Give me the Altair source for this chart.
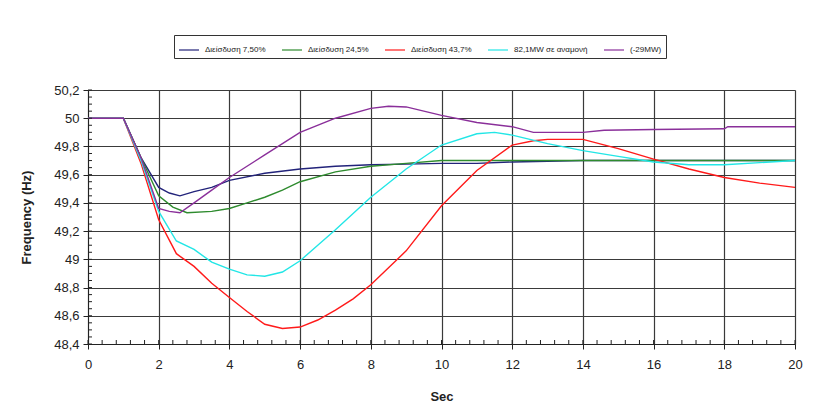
import altair as alt
import pandas as pd

series_names = ["Διείσδυση 7,50%", "Διείσδυση 24,5%", "Διείσδυση 43,7%",
                "82,1MW σε αναμονή", "(-29MW)"]
series_colors = ["#22237a", "#2e8b2e", "#ff1a1a", "#22e6e6", "#8a2f9a"]

t_navy = [0, 1, 1.5, 2, 2.3, 2.6, 3, 3.5, 4, 5, 6, 7, 8, 9, 10, 11, 12, 14, 16, 18, 20]
v_navy = [50, 50, 49.72, 49.51, 49.47, 49.45, 49.48, 49.51, 49.56, 49.61, 49.64,
          49.66, 49.67, 49.675, 49.68, 49.68, 49.69, 49.70, 49.70, 49.70, 49.70]

t_green = [0, 1, 1.5, 2, 2.4, 2.8, 3.5, 4, 4.5, 5, 5.5, 6, 7, 8, 9, 10, 12, 14, 16, 18, 20]
v_green = [50, 50, 49.72, 49.45, 49.37, 49.33, 49.34, 49.36, 49.40, 49.44, 49.49,
           49.55, 49.62, 49.66, 49.68, 49.70, 49.70, 49.70, 49.70, 49.70, 49.70]

t_red = [0, 1, 1.5, 2, 2.5, 3, 3.5, 4, 4.5, 5, 5.5, 6, 6.5, 7, 7.5, 8, 9, 10, 11,
         12, 12.6, 13, 14, 15, 16, 17, 18, 19, 20]
v_red = [50, 50, 49.68, 49.28, 49.04, 48.95, 48.83, 48.73, 48.63, 48.54, 48.51,
         48.52, 48.57, 48.64, 48.72, 48.82, 49.06, 49.38, 49.63, 49.81, 49.84,
         49.85, 49.85, 49.785, 49.71, 49.64, 49.58, 49.54, 49.51]

t_cyan = [0, 1, 1.5, 2, 2.5, 3, 3.5, 4, 4.5, 5, 5.5, 6, 6.5, 7, 8, 9, 10, 11, 11.5,
          12, 13, 14, 15, 16, 17, 18, 19, 20]
v_cyan = [50, 50, 49.70, 49.34, 49.13, 49.07, 48.98, 48.93, 48.89, 48.88, 48.91,
          48.99, 49.10, 49.21, 49.44, 49.64, 49.81, 49.89, 49.90, 49.88, 49.82,
          49.77, 49.73, 49.69, 49.67, 49.67, 49.685, 49.70]

t_purple = [0, 1, 1.5, 2, 2.3, 2.6, 3, 3.5, 4, 5, 6, 7, 8, 8.5, 9, 10, 11, 12,
            12.6, 14, 14.6, 16, 18, 18.1, 20]
v_purple = [50, 50, 49.72, 49.36, 49.34, 49.33, 49.40, 49.49, 49.58, 49.74, 49.90,
            50.00, 50.07, 50.085, 50.08, 50.02, 49.97, 49.94, 49.90, 49.90, 49.915,
            49.92, 49.925, 49.94, 49.94]

x_major_ticks = [0, 2, 4, 6, 8, 10, 12, 14, 16, 18, 20]
y_major_ticks = [48.4, 48.6, 48.8, 49.0, 49.2, 49.4, 49.6, 49.8, 50.0, 50.2]
x_minor_ticks = [round(0.4 * i, 1) for i in range(51)]
y_minor_ticks = [round(48.4 + 0.05 * i, 2) for i in range(37)]

rows = []
for name, ts, vs in zip(series_names,
                        [t_navy, t_green, t_red, t_cyan, t_purple],
                        [v_navy, v_green, v_red, v_cyan, v_purple]):
    for k, (t, v) in enumerate(zip(ts, vs)):
        rows.append({"Series": name, "t": t, "f": v, "k": k})
df = pd.DataFrame(rows)

FONT = "Liberation Sans"
W, H = 707, 254
xscale = alt.Scale(domain=[0, 20], nice=False)
yscale = alt.Scale(domain=[48.4, 50.2], nice=False, zero=False)

x_axis = alt.Axis(values=x_major_ticks, title="Sec", titleFontWeight="bold",
                  titleFontSize=13, labelFontSize=13, labelColor="#222",
                  titleColor="#222", grid=True, gridColor="#3a3a3a",
                  gridWidth=1.2, domainColor="#222", tickColor="#222",
                  tickSize=5, labelPadding=9, titlePadding=19,
                  labelFlush=False, labelOverlap=False)
y_axis = alt.Axis(values=y_major_ticks,
                  labelExpr="replace(format(datum.value, '.1~f'), '.', ',')",
                  title="Frequency (Hz)", titleFontWeight="bold",
                  titleFontSize=13, labelFontSize=13, labelColor="#222",
                  titleColor="#222", grid=True, gridColor="#3a3a3a",
                  gridWidth=1.2, domainColor="#222", tickColor="#222",
                  tickSize=5, labelPadding=4, titlePadding=20,
                  labelFlush=False, labelOverlap=False)

lines = alt.Chart(df).mark_line(strokeWidth=1.4).encode(
    x=alt.X("t:Q", scale=xscale, axis=x_axis, title="Sec"),
    y=alt.Y("f:Q", scale=yscale, axis=y_axis, title="Frequency (Hz)"),
    color=alt.Color("Series:N",
                    scale=alt.Scale(domain=series_names, range=series_colors),
                    sort=series_names,
                    legend=alt.Legend(orient="none", legendX=86, legendY=-55,
                                      direction="horizontal", title=None,
                                      symbolType="stroke", symbolSize=400,
                                      symbolStrokeWidth=1.2, labelFontSize=8,
                                      labelFont=FONT, columnPadding=13,
                                      labelOffset=5, labelColor="#222",
                                      strokeColor="#333", padding=4,
                                      fillColor="white")),
    order="k:Q",
)

minor_x = alt.Chart(pd.DataFrame({"t": x_minor_ticks})).mark_rule(
    color="#222", strokeWidth=1
).encode(x=alt.X("t:Q", scale=xscale, axis=x_axis, title="Sec"),
         y=alt.value(H - 4), y2=alt.value(H))

minor_y = alt.Chart(pd.DataFrame({"f": y_minor_ticks})).mark_rule(
    color="#222", strokeWidth=1
).encode(y=alt.Y("f:Q", scale=yscale, axis=y_axis, title="Frequency (Hz)"),
         x=alt.value(0), x2=alt.value(4))

chart = alt.layer(lines, minor_x, minor_y).properties(
    width=W, height=H,
    autosize=alt.AutoSizeParams(type="none"),
    padding={"left": 88, "top": 90, "right": 28, "bottom": 70},
).configure_view(stroke="#888", strokeWidth=1).configure(font=FONT)

chart.save("out.html", embed_options={"renderer": "svg", "actions": False})
